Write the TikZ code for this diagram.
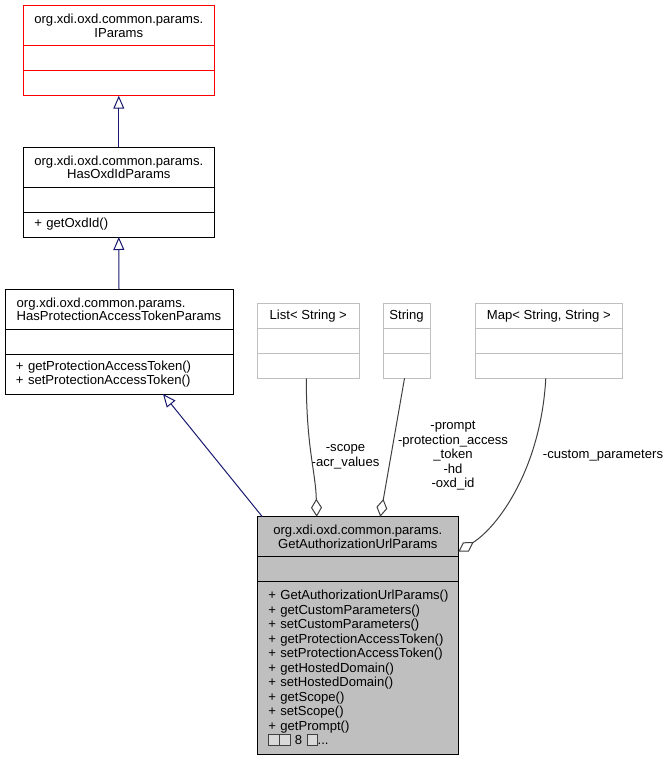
\documentclass[tikz,border=0pt]{standalone}
\usepackage{fontspec}
\setmainfont{Liberation Sans}
\usetikzlibrary{positioning,arrows.meta}
\definecolor{edgeblue}{RGB}{25,25,112}
\definecolor{edgegray}{RGB}{64,64,64}
\definecolor{boxgray}{RGB}{191,191,191}
\newcommand{\tofubox}{\begingroup\setlength{\fboxsep}{0pt}\setlength{\fboxrule}{0.8pt}\fcolorbox{darkgray}{white!70!gray}{\rule{0pt}{9.5pt}\hspace{9.5pt}}\endgroup}

\begin{document}
\begin{tikzpicture}[x=1pt, y=-1pt,
	cls/.style={draw, line width=1pt, rectangle, outer sep=0pt, inner xsep=11pt, inner ysep=2pt, anchor=north west, font=\fontsize{13.1}{13.3}\selectfont},
	title/.style={cls, minimum height=40pt, align=center},
	empty/.style={cls, minimum height=25pt},
	ops/.style={cls, align=left, font=\fontsize{13.1}{14.5}\selectfont},
	gen/.style={draw=edgeblue, line width=1pt, -{Triangle[open, length=13pt, width=11pt]}},
	agg/.style={draw=edgegray, line width=1pt, -{Diamond[open, length=18pt, width=11pt]}},
	lbl/.style={align=center, inner sep=0pt, font=\fontsize{13.1}{14.5}\selectfont}]
	\useasboundingbox (0,0) rectangle (670,760);
	% Classes
	\node[title, draw=red, minimum width=191pt] (ipT) at (23.3,5.7) {org.xdi.oxd.common.params.\\IParams};
	\node[empty, draw=red, minimum width=191pt, below=0pt of ipT] (ipA) {};
	\node[empty, draw=red, minimum width=191pt, below=0pt of ipA] (ipM) {};

	\node[title, minimum width=191pt] (hoT) at (23.3,147) {org.xdi.oxd.common.params.\\HasOxdIdParams};
	\node[empty, minimum width=191pt, below=0pt of hoT] (hoA) {};
	\node[ops, minimum height=25pt, text width=169pt, below=0pt of hoA] (hoM) {+ getOxdId()};

	\node[title, align=left, minimum width=228pt] (hpT) at (5,289) {org.xdi.oxd.common.params.\\HasProtectionAccessTokenParams};
	\node[empty, minimum width=228pt, below=0pt of hpT] (hpA) {};
	\node[ops, minimum height=40pt, text width=206pt, below=0pt of hpA] (hpM) {\mbox{+ getProtectionAccessToken()}\\\mbox{+ setProtectionAccessToken()}};

	\node[empty, draw=boxgray, minimum width=102pt] (lsT) at (257.3,303.3) {List< String >};
	\node[empty, draw=boxgray, minimum width=102pt, below=0pt of lsT] (lsA) {};
	\node[empty, draw=boxgray, minimum width=102pt, below=0pt of lsA] (lsM) {};

	\node[empty, draw=boxgray, inner xsep=4pt, minimum width=47pt] (stT) at (383,303.3) {String};
	\node[empty, draw=boxgray, minimum width=47pt, below=0pt of stT] (stA) {};
	\node[empty, draw=boxgray, minimum width=47pt, below=0pt of stA] (stM) {};

	\node[empty, draw=boxgray, minimum width=147pt] (mpT) at (475.3,303.3) {Map< String, String >};
	\node[empty, draw=boxgray, minimum width=147pt, below=0pt of mpT] (mpA) {};
	\node[empty, draw=boxgray, minimum width=147pt, below=0pt of mpA] (mpM) {};

	\node[title, fill=boxgray, minimum width=201pt] (gaT) at (257.3,516.7) {org.xdi.oxd.common.params.\\GetAuthorizationUrlParams};
	\node[empty, fill=boxgray, minimum width=201pt, minimum height=24.3pt, below=0pt of gaT] (gaA) {};
	\node[ops, fill=boxgray, minimum height=173.3pt, text width=179pt, below=0pt of gaA] (gaM) {\mbox{+ GetAuthorizationUrlParams()}\\+ getCustomParameters()\\+ setCustomParameters()\\\mbox{+ getProtectionAccessToken()}\\\mbox{+ setProtectionAccessToken()}\\+ getHostedDomain()\\+ setHostedDomain()\\+ getScope()\\+ setScope()\\+ getPrompt()\\\tofubox\tofubox{} 8 \tofubox...};

	% Labels
	\node[lbl] (lscope) at (345.5,457) {-scope\\-acr\_values};
	\node[lbl] (lstring) at (453,456) {-prompt\\-protection\_access\\\_token\\-hd\\-oxd\_id};
	\node[lbl] (lmap) at (603,456) {-custom\_parameters};

	% Edges
	\draw[gen] (hoT.north) -- (ipM.south);
	\draw[gen] (hpT.north) -- (hoM.south);
	\draw[gen] ([xshift=5pt]gaT.north west) -- ([xshift=-70pt]hpM.south east);
	\draw[agg] ([xshift=-2pt]lsM.south) .. controls +(0,70) and +(-1,-45) .. ([xshift=59.4pt]gaT.north west);
	\draw[agg] ([xshift=-2pt]stM.south) -- ([xshift=123pt]gaT.north west);
	\draw[agg] ([xshift=-3pt]mpM.south) .. controls +(-5,90) and +(40,-25) .. ([yshift=-35pt]gaT.north east);
\end{tikzpicture}
\end{document}
